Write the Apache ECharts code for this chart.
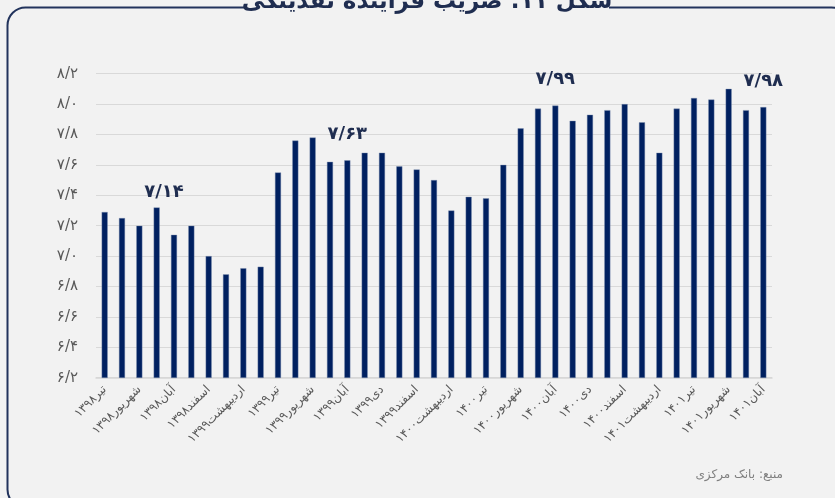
<!DOCTYPE html>
<html>
<head>
<meta charset="utf-8">
<script src="https://cdn.jsdelivr.net/npm/echarts@6/dist/echarts.min.js"></script>
<style>
html,body{margin:0;padding:0;background:#f2f2f2;}
#c{width:835px;height:498px;}
</style>
</head>
<body>
<div id="c"></div>
<script>
const categories = [
  'تیر۱۳۹۸','مرداد۱۳۹۸','شهریور۱۳۹۸','مهر۱۳۹۸','آبان۱۳۹۸','دی۱۳۹۸','اسفند۱۳۹۸',
  'فروردین۱۳۹۹','اردیبهشت۱۳۹۹','خرداد۱۳۹۹','تیر۱۳۹۹','مرداد۱۳۹۹','شهریور۱۳۹۹','مهر۱۳۹۹',
  'آبان۱۳۹۹','آذر۱۳۹۹','دی۱۳۹۹','بهمن۱۳۹۹','اسفند۱۳۹۹','فروردین۱۴۰۰','اردیبهشت۱۴۰۰',
  'خرداد۱۴۰۰','تیر۱۴۰۰','مرداد۱۴۰۰','شهریور۱۴۰۰','مهر۱۴۰۰','آبان۱۴۰۰','آذر۱۴۰۰',
  'دی۱۴۰۰','بهمن۱۴۰۰','اسفند۱۴۰۰','فروردین۱۴۰۱','اردیبهشت۱۴۰۱','خرداد۱۴۰۱','تیر۱۴۰۱',
  'مرداد۱۴۰۱','شهریور۱۴۰۱','مهر۱۴۰۱','آبان۱۴۰۱'
];
const values = [
  7.29,7.25,7.20,7.32,7.14,7.20,7.00,
  6.88,6.92,6.93,7.55,7.76,7.78,7.62,
  7.63,7.68,7.68,7.59,7.57,7.50,7.30,
  7.39,7.38,7.60,7.84,7.97,7.99,7.89,
  7.93,7.96,8.00,7.88,7.68,7.97,8.04,
  8.03,8.10,7.96,7.98
];
const annotatedIndices = [4, 14, 26, 38];
const titleText = 'شکل ۱۱: ضریب فزاینده نقدینگی';
const sourceText = 'منبع: بانک مرکزی';
const yMin = 6.2, yMax = 8.2, yStep = 0.2;

const FA = '۰۱۲۳۴۵۶۷۸۹';
function toFa(s){ return String(s).replace(/[0-9]/g, d => FA[+d]).replace('.', '/'); }

const FONT = '"DejaVu Sans", "Noto Sans", sans-serif';
const BG = '#f2f2f2';
const NAVY = '#1f2d50';

const seriesData = values.map((v, i) => {
  const item = { value: v };
  if (annotatedIndices.includes(i)) {
    item.label = {
      show: true, position: 'top', distance: 17,
      formatter: () => toFa(v.toFixed(2)),
      fontFamily: FONT, fontSize: 18, fontWeight: 'bold', color: NAVY
    };
    if (i === annotatedIndices[0]) item.label.offset = [-10, -16];
  }
  return item;
});

const chart = echarts.init(document.getElementById('c'), null, {renderer: 'canvas'});
chart.setOption({
  backgroundColor: BG,
  animation: false,
  grid: { left: 96, right: 63, top: 73.7, bottom: 120.3, containLabel: false },
  xAxis: {
    type: 'category', data: categories,
    axisLine: { show: true, lineStyle: { color: '#d6d6d6', width: 1.5 } },
    axisTick: { show: false },
    axisLabel: { interval: 1, rotate: 45, fontFamily: FONT, fontSize: 12, color: '#595959', margin: 10 }
  },
  yAxis: {
    type: 'value', min: yMin, max: yMax, interval: yStep,
    axisLine: { show: false }, axisTick: { show: false },
    splitLine: { lineStyle: { color: '#d9d9d9', width: 1 } },
    axisLabel: { formatter: v => toFa(v.toFixed(1)), fontFamily: FONT, fontSize: 15, color: '#595959', margin: 18 }
  },
  series: [{
    type: 'bar', data: seriesData, barWidth: 6,
    itemStyle: { color: '#002060', borderColor: '#7f8fb0', borderWidth: 0.4 }
  }],
  graphic: [
    { type: 'rect', z: 100, shape: { x: 7.5, y: 7.5, width: 842, height: 500, r: 18 },
      style: { fill: null, stroke: '#22335c', lineWidth: 2 } },
    { type: 'rect', z: 101, shape: { x: 244, y: 0, width: 365, height: 16 }, style: { fill: BG } },
    { type: 'text', z: 102, x: 427, y: 2,
      style: { text: titleText, font: 'bold 23px ' + FONT, fill: NAVY, textAlign: 'center', textVerticalAlign: 'middle' } },
    { type: 'text', z: 102, x: 783, y: 475,
      style: { text: sourceText, font: '12px ' + FONT, fill: '#7f7f7f', textAlign: 'right', textVerticalAlign: 'middle' } }
  ]
});
</script>
</body>
</html>
